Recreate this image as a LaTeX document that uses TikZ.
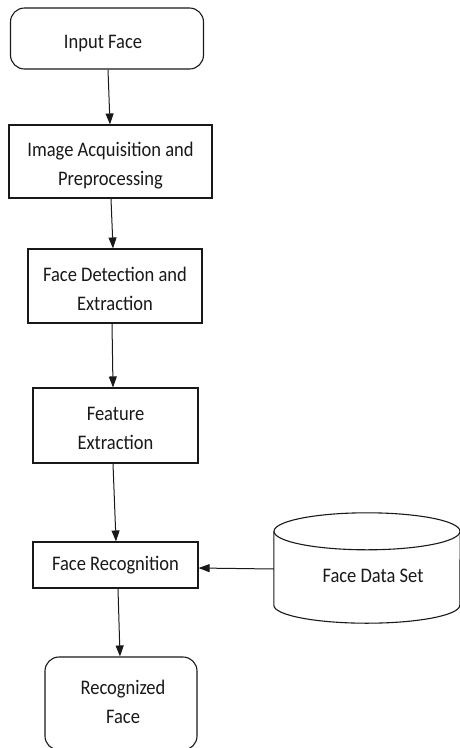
\documentclass[tikz,border=0pt]{standalone}
\usepackage{fontspec}
\setmainfont{Carlito}
\usetikzlibrary{arrows.meta,calc}
\newcommand{\tx}[1]{\scalebox{1}[1.12]{\begin{tabular}{@{}c@{}}#1\end{tabular}}}
\tikzset{
  box/.style={draw=black!90, line width=1.1pt, inner sep=0pt},
  rbox/.style={box, rounded corners=14pt},
  txt/.style={font=\fontsize{18.5}{26}\selectfont, text=black!90, inner sep=0pt},
  arr/.style={draw=black!90, line width=1pt, -{Triangle[length=11pt,width=8pt]}},
}
\begin{document}
\begin{tikzpicture}[x=1pt,y=-1pt]
\useasboundingbox (0,0) rectangle (460,748);
\node[rbox, minimum width=193pt, minimum height=61pt,
  label={[txt,xshift=-4pt,yshift=-4pt]center:\tx{Input Face}}] (in) at (107,38.5) {};
\node[box, minimum width=203pt, minimum height=73pt,
  label={[txt,yshift=-4pt]center:\tx{Image Acquisition and\\Preprocessing}}] (acq) at (110.5,161.5) {};
\node[box, minimum width=174pt, minimum height=74pt,
  label={[txt,yshift=-4pt]center:\tx{Face Detection and\\Extraction}}] (det) at (115,286) {};
\node[box, minimum width=165pt, minimum height=75pt,
  label={[txt,yshift=-4pt]center:\tx{Feature\\Extraction}}] (fe) at (115.5,425.5) {};
\node[box, minimum width=165pt, minimum height=46pt,
  label={[txt,yshift=0pt]center:\tx{Face Recognition}}] (fr) at (115.5,565) {};
\node[rbox, minimum width=152pt, minimum height=93pt,
  label={[txt,xshift=2pt]center:\tx{Recognized\\Face}}] (rf) at (121,703.5) {};
% database cylinder
\node[inner sep=0pt, minimum width=186pt, minimum height=110pt,
  label={[txt,xshift=6pt,yshift=-9pt]center:\tx{Face Data Set}}] (db) at (367,568) {};
\draw[draw=black!90, line width=1.1pt]
  ($(db.north)+(0,18.5)$) ellipse [x radius=93, y radius=18.5];
\draw[draw=black!90, line width=1.1pt]
  ($(db.north west)+(0,18.5)$) -- ($(db.south west)+(0,-18)$)
  arc[start angle=180, end angle=360, x radius=93, y radius=-18]
  -- ($(db.north east)+(0,18.5)$);
% connectors
\draw[arr] ([xshift=1pt]in.south) -- ([xshift=-0.5pt]acq.north);
\draw[arr] ([xshift=0.5pt]acq.south) -- ([xshift=-2pt]det.north);
\draw[arr] ([xshift=-3pt]det.south) -- ([xshift=-2.5pt]fe.north);
\draw[arr] ([xshift=-2.5pt]fe.south) -- ([xshift=0.5pt]fr.north);
\draw[arr] ([yshift=-1pt]db.west) -- ([yshift=-3pt]fr.east);
\draw[arr] ([xshift=2.5pt]fr.south) -- ([xshift=-1pt]rf.north);
\end{tikzpicture}
\end{document}
